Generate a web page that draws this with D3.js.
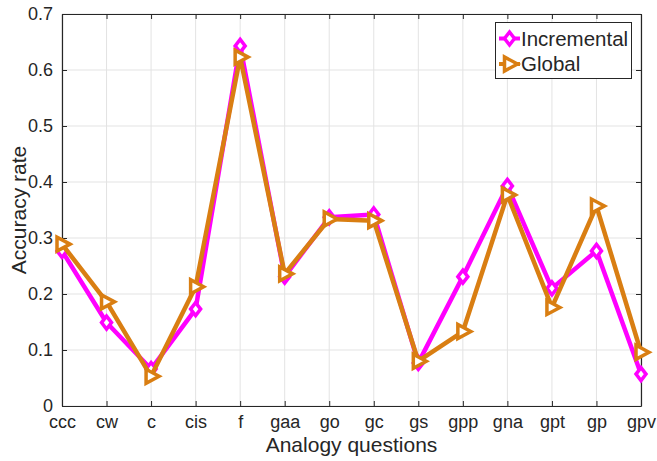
<!DOCTYPE html>
<html>
<head>
<meta charset="utf-8">
<script src="https://cdn.jsdelivr.net/npm/d3@7"></script>
<style>
  html, body { margin: 0; padding: 0; background: #fff; }
  svg text { font-family: "Liberation Sans", Arial, sans-serif; fill: #262626; }
</style>
</head>
<body>
<svg id="chart" width="657" height="461"></svg>
<script>
// Analogy question categories
const categories = ["ccc", "cw", "c", "cis", "f", "gaa", "go", "gc", "gs", "gpp", "gna", "gpt", "gp", "gpv"];
// Accuracy per category
const incremental = [0.277, 0.149, 0.066, 0.173, 0.643, 0.231, 0.337, 0.342, 0.077, 0.231, 0.393, 0.210, 0.277, 0.057];
const global = [0.289, 0.186, 0.053, 0.213, 0.623, 0.236, 0.334, 0.331, 0.080, 0.133, 0.377, 0.176, 0.357, 0.096];
const yTicks = [0, 0.1, 0.2, 0.3, 0.4, 0.5, 0.6, 0.7];
const seriesNames = ["Incremental", "Global"];

const colors = { inc: "#ff00ff", glob: "#d97e12" };
const margin = { left: 62, top: 14, right: 16, bottom: 55 };
const W = 657, H = 461;
const svg = d3.select("#chart");

const x = d3.scalePoint().domain(categories).range([margin.left, W - margin.right]).padding(0);
const y = d3.scaleLinear().domain([0, 0.7]).range([H - margin.bottom, margin.top]);

const x0 = margin.left, x1 = W - margin.right, y0 = H - margin.bottom, y1 = margin.top;

// grid
const grid = svg.append("g");
grid.selectAll("line.vx").data(categories).join("line")
  .attr("x1", d => x(d)).attr("x2", d => x(d)).attr("y1", y0).attr("y2", y1)
  .attr("stroke", "#e3e3e3").attr("stroke-width", 1);
grid.selectAll("line.hy").data(yTicks).join("line")
  .attr("x1", x0).attr("x2", x1).attr("y1", d => y(d)).attr("y2", d => y(d))
  .attr("stroke", "#e3e3e3").attr("stroke-width", 1);

// axes
const fmt = d => d === 0 ? "0" : d3.format(".1f")(d);
const xAxis = svg.append("g").attr("transform", `translate(0,${y0})`)
  .call(d3.axisBottom(x).tickSizeInner(-5).tickSizeOuter(0).tickPadding(13));
const xTop = svg.append("g").attr("transform", `translate(0,${y1})`)
  .call(d3.axisTop(x).tickSizeInner(-5).tickSizeOuter(0).tickFormat(""));
const yAxis = svg.append("g").attr("transform", `translate(${x0},0)`)
  .call(d3.axisLeft(y).tickValues(yTicks).tickFormat(fmt).tickSizeInner(-5).tickSizeOuter(0).tickPadding(9));
const yRight = svg.append("g").attr("transform", `translate(${x1},0)`)
  .call(d3.axisRight(y).tickValues(yTicks).tickFormat("").tickSizeInner(-5).tickSizeOuter(0));
[xAxis, xTop, yAxis, yRight].forEach(g => {
  g.selectAll("path.domain").attr("stroke", "#262626").attr("stroke-width", 1.2);
  g.selectAll(".tick line").attr("stroke", "#262626").attr("stroke-width", 1);
  g.selectAll("text").style("font-size", "18px").attr("fill", "#262626");
});
xAxis.selectAll("text").attr("dy", "0.5em");
yAxis.selectAll("text").attr("dy", "0.3em");

// axis titles
svg.append("text").attr("x", (x0 + x1) / 2).attr("y", 452)
  .attr("text-anchor", "middle").style("font-size", "21px").text("Analogy questions");
svg.append("text").attr("transform", `translate(26,${(y0 + y1) / 2}) rotate(-90)`)
  .attr("text-anchor", "middle").style("font-size", "21px").text("Accuracy rate");

// series
const line = d3.line().x((d, i) => x(categories[i])).y(d => y(d));
function diamond(g, cx, cy, color) {
  g.append("path")
    .attr("d", `M${cx},${cy - 6.5}L${cx + 5},${cy}L${cx},${cy + 6.5}L${cx - 5},${cy}Z`)
    .attr("fill", "#fff").attr("stroke", color).attr("stroke-width", 3.5);
}
function triRight(g, cx, cy, color) {
  g.append("path")
    .attr("d", `M${cx + 8},${cy}L${cx - 5},${cy - 7}L${cx - 5},${cy + 7}Z`)
    .attr("fill", "#fff").attr("stroke", color).attr("stroke-width", 3.5).attr("stroke-linejoin", "miter");
}

const gInc = svg.append("g");
gInc.append("path").datum(incremental).attr("d", line)
  .attr("fill", "none").attr("stroke", colors.inc).attr("stroke-width", 4.5).attr("stroke-linejoin", "round");
incremental.forEach((v, i) => diamond(gInc, x(categories[i]), y(v), colors.inc));

const gGlob = svg.append("g");
gGlob.append("path").datum(global).attr("d", line)
  .attr("fill", "none").attr("stroke", colors.glob).attr("stroke-width", 4.5).attr("stroke-linejoin", "round");
global.forEach((v, i) => triRight(gGlob, x(categories[i]), y(v), colors.glob));

// legend
const lg = svg.append("g");
lg.append("rect").attr("x", 495.5).attr("y", 22.5).attr("width", 136).attr("height", 56)
  .attr("fill", "#fff").attr("stroke", "#262626").attr("stroke-width", 1);
const legendItems = [
  { name: seriesNames[0], color: colors.inc, mark: diamond, yy: 38.5 },
  { name: seriesNames[1], color: colors.glob, mark: triRight, yy: 64 }
];
legendItems.forEach(it => {
  lg.append("line").attr("x1", 499).attr("x2", 520).attr("y1", it.yy).attr("y2", it.yy)
    .attr("stroke", it.color).attr("stroke-width", 4);
  it.mark(lg, 509.5, it.yy, it.color);
  lg.append("text").attr("x", 521).attr("y", it.yy).attr("dy", "0.36em")
    .style("font-size", "20.5px").attr("fill", "#000").text(it.name);
});
</script>
</body>
</html>
